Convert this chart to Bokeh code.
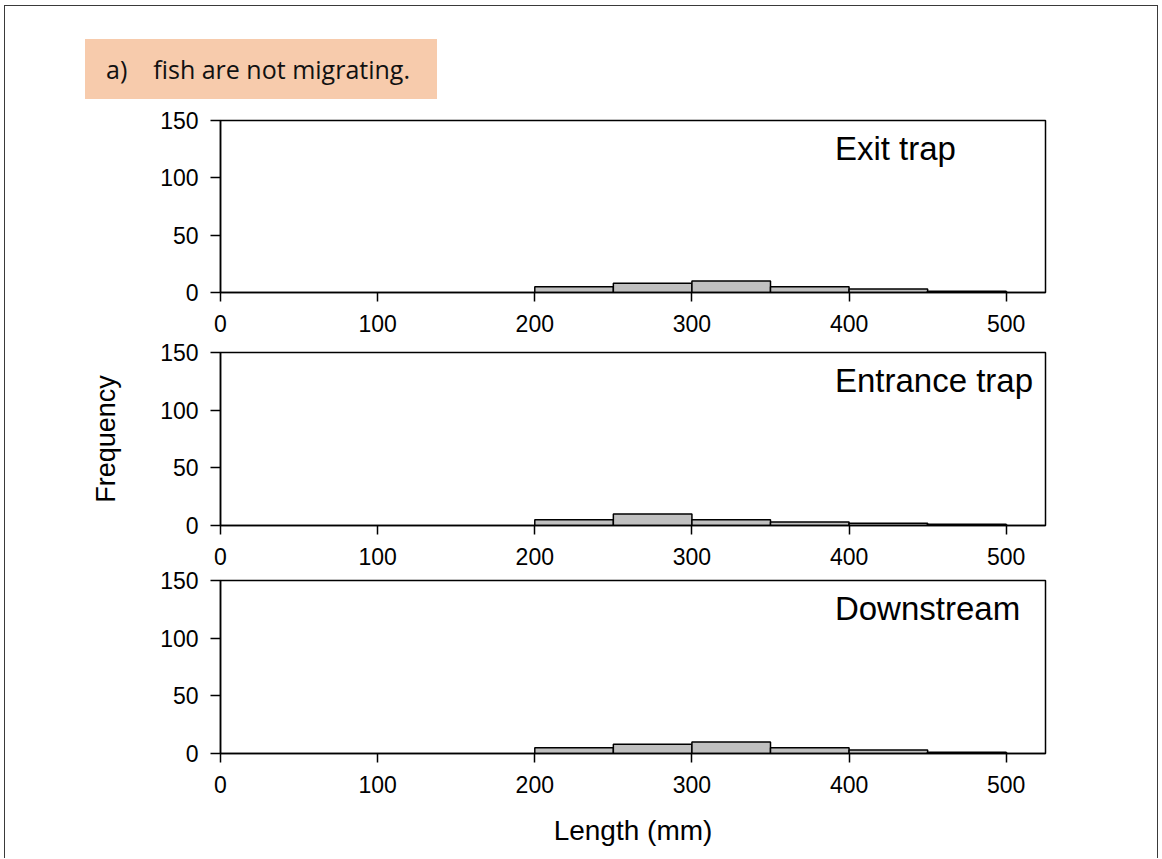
from bokeh.plotting import figure
from bokeh.models import Range1d, FixedTicker, Label, Div
from bokeh.layouts import column
from bokeh.embed import file_html
from bokeh.resources import INLINE

# ---- data ----
bin_edges = [200, 250, 300, 350, 400, 450, 500]
exit_counts = [5, 8, 10, 5, 3, 1]
entrance_counts = [5, 10, 5, 3, 2, 1]
downstream_counts = [5, 8, 10, 5, 3, 1]
panel_titles = ["Exit trap", "Entrance trap", "Downstream"]
x_ticks = [0, 100, 200, 300, 400, 500]
y_ticks = [0, 50, 100, 150]
header_text = "fish are not migrating."
header_marker = "a)"
y_title = "Frequency"
x_title = "Length (mm)"

FONT = "Liberation Sans"


def make_panel(counts, title, height, top, bottom, margin_top, ylabel=None, xlabel=None):
    p = figure(width=1152, height=height,
               x_range=Range1d(0, 525), y_range=Range1d(0, 150),
               output_backend="svg", toolbar_location=None,
               min_border_left=215, min_border_right=112,
               min_border_top=top, min_border_bottom=bottom,
               background_fill_color="white", border_fill_alpha=0,
               margin=(margin_top, 0, 0, 0))
    p.grid.visible = False
    p.outline_line_color = "black"
    p.outline_line_width = 1.5
    p.quad(left=bin_edges[:-1], right=bin_edges[1:], bottom=0, top=counts,
           fill_color="#C0C0C0", line_color="black", line_width=1.5)

    xa = p.xaxis[0]
    xa.ticker = FixedTicker(ticks=x_ticks)
    xa.major_tick_out = 9
    xa.major_tick_in = 0
    xa.minor_tick_line_color = None
    xa.axis_line_width = 1.5
    xa.major_tick_line_width = 1.5
    xa.major_label_text_font = FONT
    xa.major_label_text_font_size = "23px"
    xa.major_label_text_color = "black"
    xa.major_label_standoff = 13

    ya = p.yaxis[0]
    ya.ticker = FixedTicker(ticks=y_ticks)
    ya.major_tick_out = 10
    ya.major_tick_in = 0
    ya.minor_tick_line_color = None
    ya.axis_line_width = 1.5
    ya.major_tick_line_width = 1.5
    ya.major_label_text_font = FONT
    ya.major_label_text_font_size = "23px"
    ya.major_label_text_color = "black"
    ya.major_label_standoff = 12

    if ylabel:
        ya.axis_label = ylabel
        ya.axis_label_text_font = FONT
        ya.axis_label_text_font_size = "27px"
        ya.axis_label_text_font_style = "normal"
        ya.axis_label_text_color = "black"
        ya.axis_label_standoff = 36
    if xlabel:
        xa.axis_label = xlabel
        xa.axis_label_text_font = FONT
        xa.axis_label_text_font_size = "28px"
        xa.axis_label_text_font_style = "normal"
        xa.axis_label_text_color = "black"
        xa.axis_label_standoff = 19

    p.add_layout(Label(x=391, y=125.5, text=title, text_align="left",
                       text_baseline="alphabetic", text_font=FONT,
                       text_font_size="33px", text_color="black"))
    return p


header = Div(
    text=(
        '<div style="padding:33px 0 0 80px;margin:0;">'
        '<div style="width:352px;height:60px;background:#F7CBAC;margin:0;'
        "font-family:'Open Sans';font-size:25px;line-height:60px;color:#111;white-space:nowrap;\">"
        f'<span style="margin-left:21px;">{header_marker}</span>'
        f'<span style="margin-left:26px;">{header_text}</span>'
        '</div></div>'
    ),
    width=1152, height=94, margin=0,
)

f1 = make_panel(exit_counts, panel_titles[0], 252, 20, 60, 0)
f2 = make_panel(entrance_counts, panel_titles[1], 253, 20, 60, -20, ylabel=y_title)
f3 = make_panel(downstream_counts, panel_titles[2], 298, 20, 105, -25, xlabel=x_title)

root = column(header, f1, f2, f3, spacing=0,
              styles={"border-top": "1px solid #3a3a3a",
                      "border-left": "1px solid #3a3a3a",
                      "border-right": "1px solid #3a3a3a"},
              margin=(5, 0, 0, 4))

open("out.html", "w").write(file_html(root, INLINE))
